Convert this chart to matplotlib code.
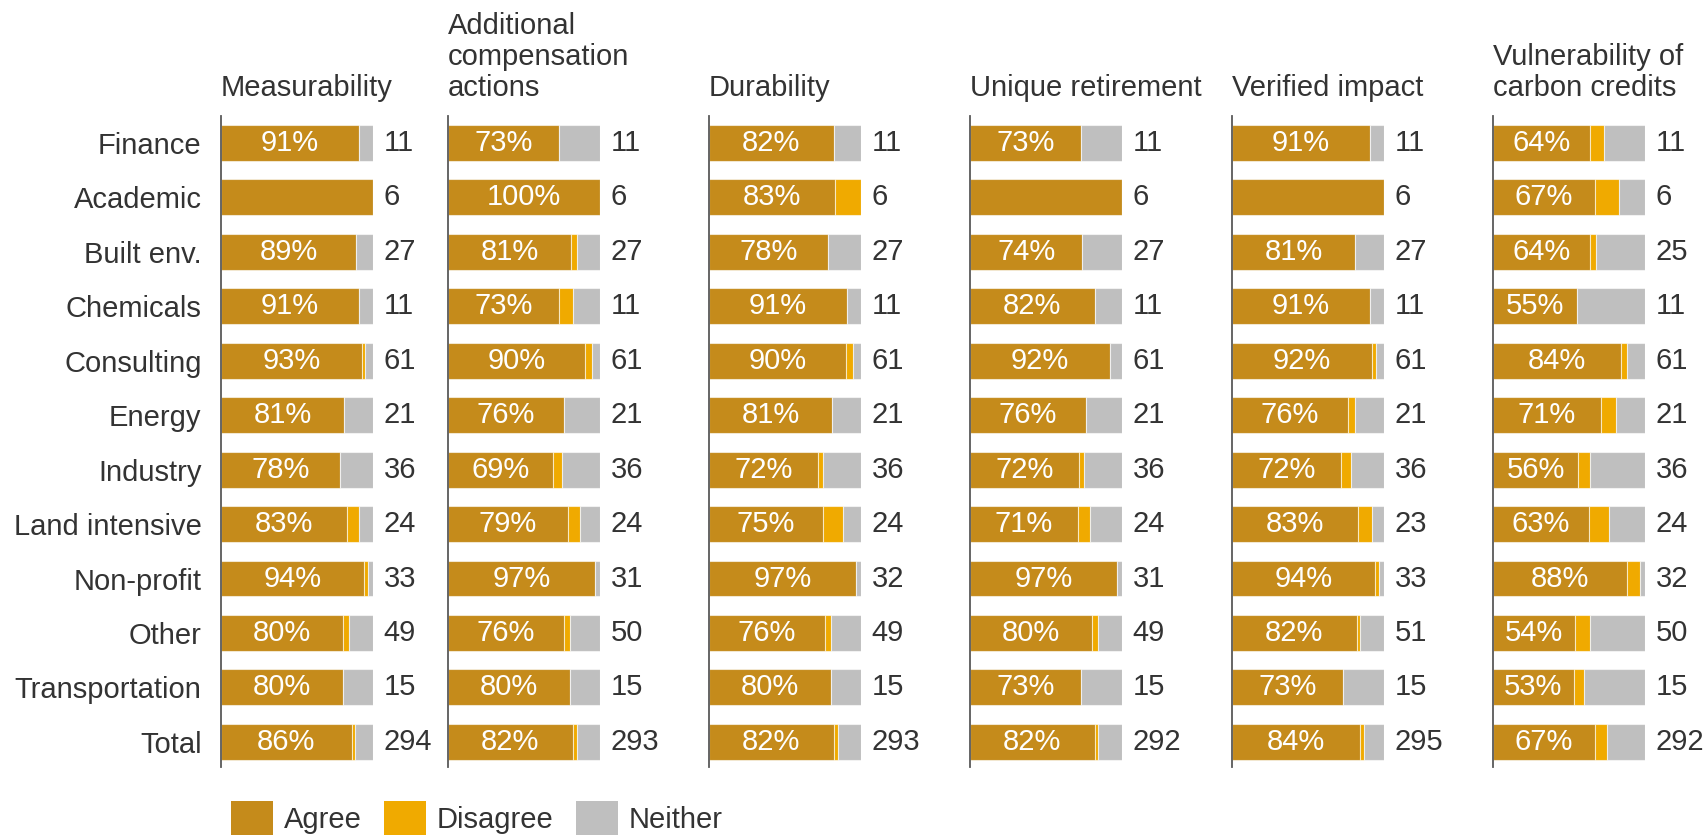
import matplotlib
matplotlib.use("Agg")
import matplotlib.pyplot as plt
from matplotlib.patches import Patch

plt.rcParams['font.family'] = ['Liberation Sans', 'DejaVu Sans']

categories = ["Finance", "Academic", "Built env.", "Chemicals", "Consulting", "Energy",
              "Industry", "Land intensive", "Non-profit", "Other", "Transportation", "Total"]

titles = ["Measurability", "Additional\ncompensation\nactions", "Durability",
          "Unique retirement", "Verified impact", "Vulnerability of\ncarbon credits"]

# share of respondents (%) per panel: agree / disagree / neither, and N
agree_meas = [91, 100, 89, 91, 93, 81, 78, 83, 94, 80, 80, 86]
disagree_meas = [0, 0, 0, 0, 2, 0, 0, 8, 3, 4, 0, 2]
neither_meas = [9, 0, 11, 9, 5, 19, 22, 9, 3, 16, 20, 12]
n_meas = [11, 6, 27, 11, 61, 21, 36, 24, 33, 49, 15, 294]

agree_add = [73, 100, 81, 73, 90, 76, 69, 79, 97, 76, 80, 82]
disagree_add = [0, 0, 4, 9, 5, 0, 6, 8, 0, 4, 0, 3]
neither_add = [27, 0, 15, 18, 5, 24, 25, 13, 3, 20, 20, 15]
n_add = [11, 6, 27, 11, 61, 21, 36, 24, 31, 50, 15, 293]

agree_dur = [82, 83, 78, 91, 90, 81, 72, 75, 97, 76, 80, 82]
disagree_dur = [0, 17, 0, 0, 5, 0, 3, 13, 0, 4, 0, 3]
neither_dur = [18, 0, 22, 9, 5, 19, 25, 12, 3, 20, 20, 15]
n_dur = [11, 6, 27, 11, 61, 21, 36, 24, 32, 49, 15, 293]

agree_uni = [73, 100, 74, 82, 92, 76, 72, 71, 97, 80, 73, 82]
disagree_uni = [0, 0, 0, 0, 0, 0, 3, 8, 0, 4, 0, 2]
neither_uni = [27, 0, 26, 18, 8, 24, 25, 21, 3, 16, 27, 16]
n_uni = [11, 6, 27, 11, 61, 21, 36, 24, 31, 49, 15, 292]

agree_ver = [91, 100, 81, 91, 92, 76, 72, 83, 94, 82, 73, 84]
disagree_ver = [0, 0, 0, 0, 3, 5, 6, 9, 3, 2, 0, 3]
neither_ver = [9, 0, 19, 9, 5, 19, 22, 8, 3, 16, 27, 13]
n_ver = [11, 6, 27, 11, 61, 21, 36, 23, 33, 51, 15, 295]

agree_vul = [64, 67, 64, 55, 84, 71, 56, 63, 88, 54, 53, 67]
disagree_vul = [9, 16, 4, 0, 4, 10, 8, 13, 9, 10, 7, 8]
neither_vul = [27, 17, 32, 45, 12, 19, 36, 24, 3, 36, 40, 25]
n_vul = [11, 6, 25, 11, 61, 21, 36, 24, 32, 50, 15, 292]

panels = [
    (agree_meas, disagree_meas, neither_meas, n_meas),
    (agree_add, disagree_add, neither_add, n_add),
    (agree_dur, disagree_dur, neither_dur, n_dur),
    (agree_uni, disagree_uni, neither_uni, n_uni),
    (agree_ver, disagree_ver, neither_ver, n_ver),
    (agree_vul, disagree_vul, neither_vul, n_vul),
]
# (panel index, row) whose percentage label is not printed in the original
hidden_labels = {(0, 1), (3, 1), (4, 1)}

c_agree = '#C58B1B'
c_dis = '#F0AA00'
c_nei = '#BFBFBF'
txt = '#333333'
edge = (1, 1, 1, 0.6)

W, H = 1706, 839
fig = plt.figure(figsize=(W / 100, H / 100), dpi=100)

lefts_px = [221, 448, 709, 970, 1232, 1493]
bar_w_px = 152
top_px, bot_px = 116, 767
fs = 21

rows = list(range(len(categories)))
for k, (ag, di, ne, nn) in enumerate(panels):
    ax = fig.add_axes([lefts_px[k] / W, (H - bot_px) / H, bar_w_px / W, (bot_px - top_px) / H])
    ag_f = [a / 100 for a in ag]
    di_f = [d / 100 for d in di]
    ne_f = [v / 100 for v in ne]
    ax.barh(rows, ag_f, height=0.66, color=c_agree, edgecolor=edge, linewidth=0.8)
    ax.barh(rows, di_f, left=ag_f, height=0.66, color=c_dis, edgecolor=edge, linewidth=0.8)
    ax.barh(rows, ne_f, left=[a + d for a, d in zip(ag_f, di_f)], height=0.66,
            color=c_nei, edgecolor=edge, linewidth=0.8)
    for i in rows:
        if (k, i) not in hidden_labels:
            ax.text(ag_f[i] / 2, i, f"{ag[i]}%", ha='center', va='center',
                    color='white', fontsize=fs)
        ax.text(1.07, i, str(nn[i]), ha='left', va='center', color=txt,
                fontsize=fs, clip_on=False)
    ax.set_xlim(0, 1)
    ax.set_ylim(11.46, -0.49)
    for s in ['top', 'right', 'bottom']:
        ax.spines[s].set_visible(False)
    ax.spines['left'].set_color('#595959')
    ax.spines['left'].set_linewidth(1.3)
    ax.set_xticks([])
    if k == 0:
        ax.set_yticks(rows)
        ax.set_yticklabels(categories, fontsize=fs, color=txt)
        ax.tick_params(axis='y', length=0, pad=14)
    else:
        ax.set_yticks([])
    ax.text(0, 1.022, titles[k], transform=ax.transAxes, ha='left', va='bottom',
            fontsize=fs, color=txt, linespacing=1.13)

handles = [Patch(facecolor=c_agree, label='Agree'),
           Patch(facecolor=c_dis, label='Disagree'),
           Patch(facecolor=c_nei, label='Neither')]
fig.legend(handles=handles, loc='center left', bbox_to_anchor=(231 / W, 21 / H),
           ncol=3, frameon=False, fontsize=fs, handlelength=1.44, handleheight=1.44,
           handletextpad=0.38, columnspacing=0.75, borderpad=0, borderaxespad=0,
           labelcolor=txt)

fig.savefig('out.png', dpi=100)
